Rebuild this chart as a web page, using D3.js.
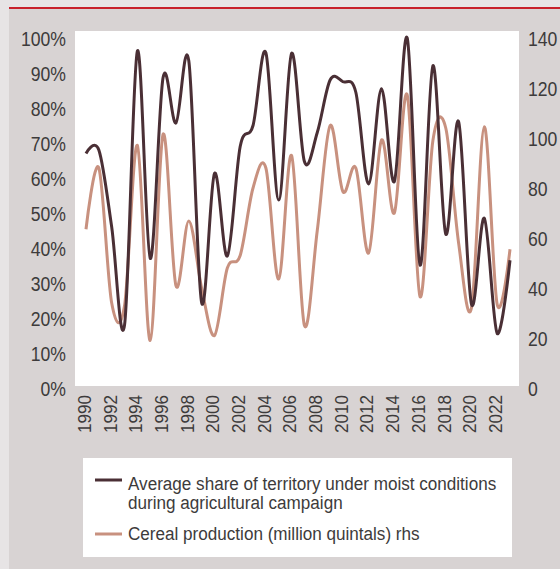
<!DOCTYPE html>
<html><head><meta charset="utf-8">
<script src="https://cdn.jsdelivr.net/npm/d3@7"></script>
<style>
html,body{margin:0;padding:0;background:#e7e4e5;}
svg{display:block;}
text{font-family:"Liberation Sans",Arial,sans-serif;fill:#3d3b3b;}
</style></head>
<body>
<svg id="chart" width="560" height="569"></svg>
<script>
const years = d3.range(1990, 2024);
const moistShare = [67, 68, 46, 18, 96.3, 37, 88.7, 75.7, 93.5, 24.4, 61.3, 37.7, 69, 75, 95.8, 53.7, 95.6, 64.7, 73, 88, 87.5, 84.5, 58.3, 85.5, 59, 100, 35.1, 92.1, 44, 76.1, 24, 48.5, 15.6, 36.5];
const cerealProd = [63.5, 88, 34, 33, 97, 19, 101.5, 41, 66.8, 40, 21, 48, 53, 80, 88, 43.6, 93, 25, 63, 105, 78.5, 88, 54, 99.2, 70, 117.2, 36.5, 99, 104, 58, 32, 104.5, 33.5, 55.5];
const leftTicks = [0, 10, 20, 30, 40, 50, 60, 70, 80, 90, 100];
const rightTicks = [0, 20, 40, 60, 80, 100, 120, 140];
const yearTicks = d3.range(1990, 2023, 2);
const seriesNames = ["Average share of territory under moist conditions", "during agricultural campaign", "Cereal production (million quintals) rhs"];
const colors = {moist: "#4a2f35", cereal: "#c8917f"};

const svg = d3.select("#chart");
// panel
svg.append("rect").attr("x", 9).attr("y", 9).attr("width", 551).attr("height", 560).attr("fill", "#d8d3d3");
svg.append("line").attr("x1", 9).attr("x2", 560).attr("y1", 8).attr("y2", 8).attr("stroke", "#c8202b").attr("stroke-width", 2);
// plot area
svg.append("rect").attr("x", 75).attr("y", 31).attr("width", 444).attr("height", 355).attr("fill", "#ffffff");

const x = d3.scaleLinear().domain([1990, 2023]).range([86, 510]);
const yL = d3.scaleLinear().domain([0, 100]).range([388, 38]);
const yR = d3.scaleLinear().domain([0, 140]).range([388, 38]);

// left axis
const la = svg.append("g").attr("transform", "translate(66,0)")
  .call(d3.axisLeft(yL).tickValues(leftTicks).tickSize(0).tickPadding(0).tickFormat(d => d + "%"));
la.select(".domain").remove();
la.selectAll("text").attr("font-size", 21).attr("dy", "0.36em").attr("transform", "scale(0.84,1)");

// right axis
const ra = svg.append("g").attr("transform", "translate(528,0)")
  .call(d3.axisRight(yR).tickValues(rightTicks).tickSize(0).tickPadding(0));
ra.select(".domain").remove();
ra.selectAll("text").attr("font-size", 21).attr("dy", "0.36em").attr("transform", "scale(0.84,1)");

// x axis
const xa = svg.append("g").attr("transform", "translate(0,395)")
  .call(d3.axisBottom(x).tickValues(yearTicks).tickSize(0).tickPadding(0).tickFormat(d3.format("d")));
xa.select(".domain").remove();
xa.selectAll("text").attr("font-size", 19)
  .attr("text-anchor", "end").attr("dy", null).attr("y", 0).attr("x", 0)
  .attr("dominant-baseline", "central")
  .attr("transform", "translate(-2,0) rotate(-90) scale(0.9,1)");

// lines
const curve = d3.curveCatmullRom.alpha(0);
const lineL = d3.line().x((d, i) => x(years[i])).y(d => yL(d)).curve(curve);
const lineR = d3.line().x((d, i) => x(years[i])).y(d => yR(d)).curve(curve);
svg.append("path").attr("d", lineR(cerealProd)).attr("fill", "none").attr("stroke", colors.cereal).attr("stroke-width", 3);
svg.append("path").attr("d", lineL(moistShare)).attr("fill", "none").attr("stroke", colors.moist).attr("stroke-width", 3);

// legend
const lg = svg.append("g");
lg.append("rect").attr("x", 83).attr("y", 458).attr("width", 429).attr("height", 99).attr("fill", "#ffffff");
lg.append("line").attr("x1", 95).attr("x2", 122).attr("y1", 480).attr("y2", 480).attr("stroke", colors.moist).attr("stroke-width", 3);
lg.append("line").attr("x1", 95).attr("x2", 122).attr("y1", 534).attr("y2", 534).attr("stroke", colors.cereal).attr("stroke-width", 3);
const legendRows = [[seriesNames[0], 490], [seriesNames[1], 509], [seriesNames[2], 540]];
legendRows.forEach(([t, yy]) => {
  lg.append("g").attr("transform", "translate(128," + yy + ") scale(0.9,1)")
    .append("text").attr("x", 0).attr("y", 0).attr("font-size", 19).text(t);
});
</script>
</body></html>
